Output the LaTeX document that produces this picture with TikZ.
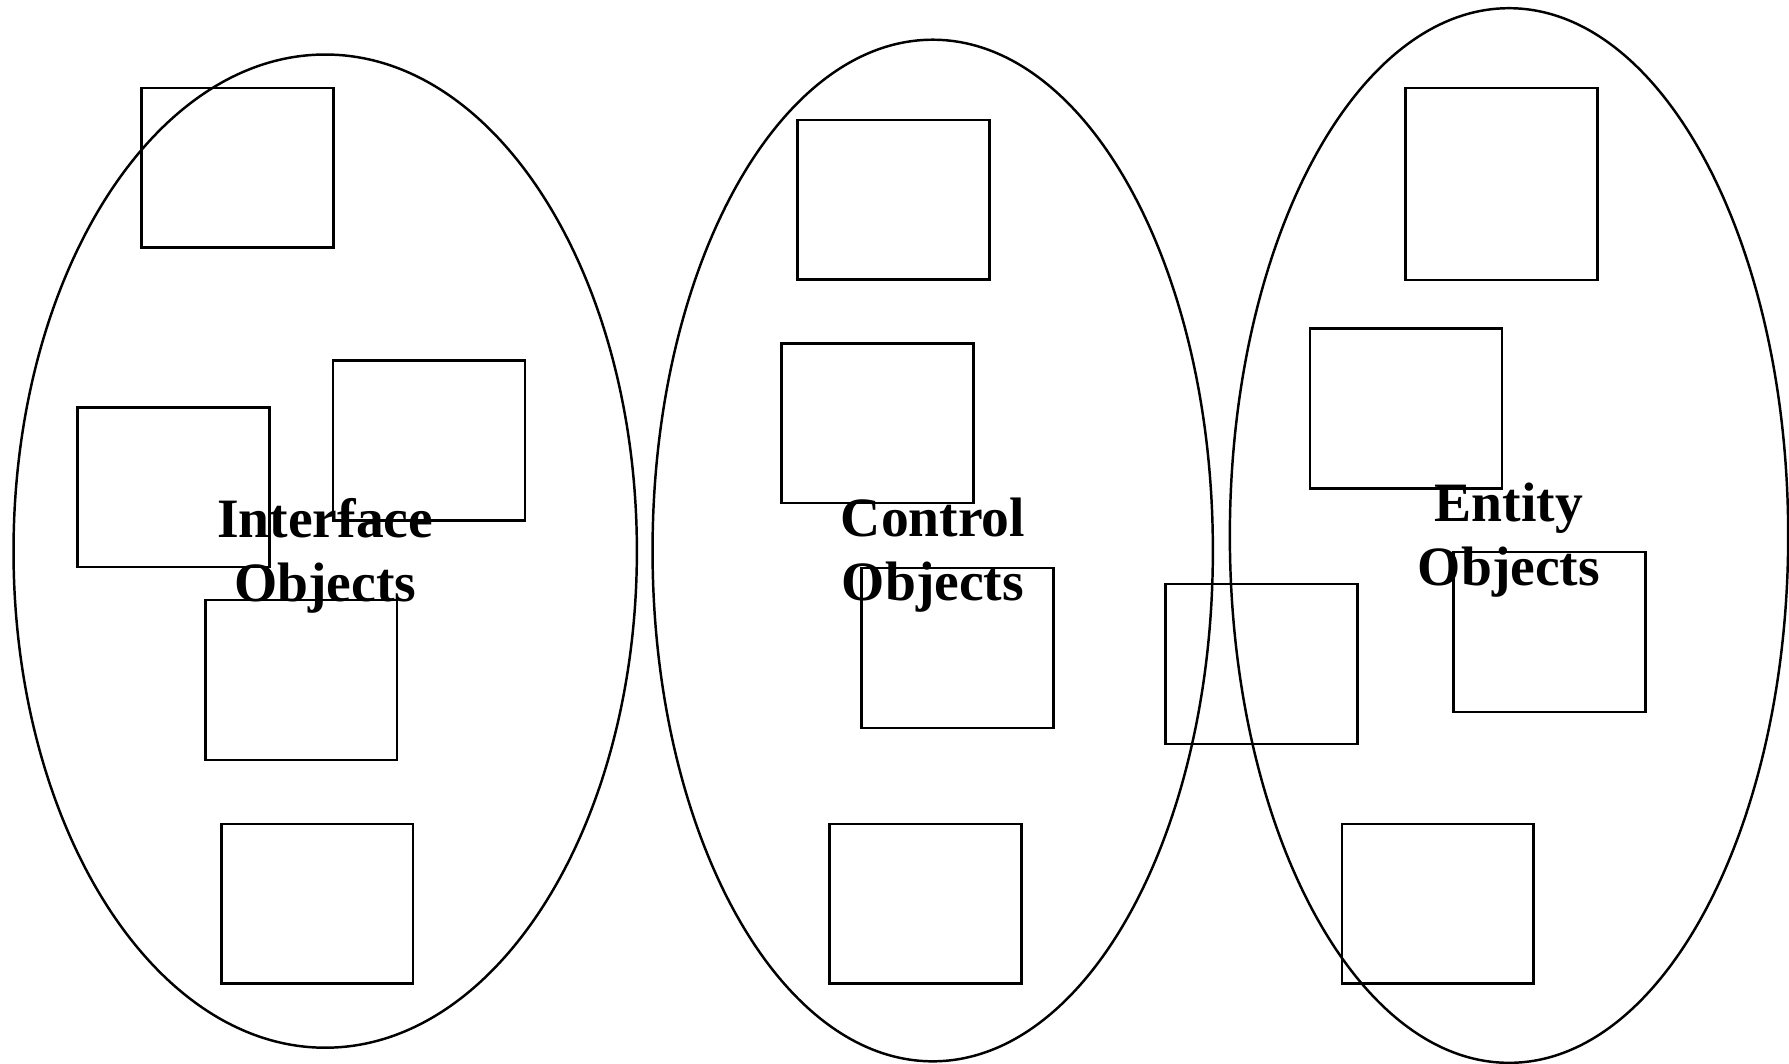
\documentclass[tikz,border=0pt]{standalone}
\usepackage{fontspec}
\setmainfont{Liberation Serif}
\usepackage{tikz}
\usetikzlibrary{shapes.geometric}

\begin{document}
\begin{tikzpicture}[
    x=0.01cm, y=-0.01cm,
    group/.style={ellipse, draw, line width=0.7pt, inner sep=0pt},
    objbox/.style={rectangle, draw, line width=0.7pt, minimum width=1.917cm, minimum height=1.597cm, inner sep=0pt},
    label/.style={align=center, font=\bfseries\fontsize{15.8}{18.2}\selectfont},
]
    \useasboundingbox (0,0) rectangle (1789,1063);

    % Groups
    \node[group, minimum width=6.23cm, minimum height=9.926cm] (interface) at (325.2, 551.1) {};
    \node[group, minimum width=5.60cm, minimum height=10.21cm] (control) at (932.7, 550.5) {};
    \node[group, minimum width=5.58cm, minimum height=10.54cm] (entity) at (1509, 535.5) {};

    % Interface objects
    \node[objbox] (if1) at (237.4, 167.8) {};
    \node[objbox] (if2) at (429.1, 440.5) {};
    \node[objbox] (if3) at (173.5, 487.2) {};
    \node[objbox] (if4) at (301.3, 680.1) {};
    \node[objbox] (if5) at (317.3, 903.7) {};

    % Control objects
    \node[objbox] (ct1) at (893.5, 199.7) {};
    \node[objbox] (ct2) at (877.5, 423.3) {};
    \node[objbox] (ct3) at (957.4, 648.1) {};
    \node[objbox] (ct4) at (925.4, 903.7) {};

    % Entity objects
    \node[objbox] (en1) at (1261.4, 664.1) {};
    \node[objbox, minimum height=1.92cm] (en2) at (1501.5, 184) {};
    \node[objbox] (en3) at (1405.8, 408.5) {};
    \node[objbox] (en4) at (1549.6, 632.1) {};
    \node[objbox] (en5) at (1437.7, 903.7) {};

    % Labels
    \node[label] (interfacelbl) at (325.2, 555.5) {Interface\\Objects};
    \node[label] (controllbl) at (933, 555.5) {Control\\Objects};
    \node[label] (entitylbl) at (1509, 540) {Entity\\Objects};
\end{tikzpicture}
\end{document}
